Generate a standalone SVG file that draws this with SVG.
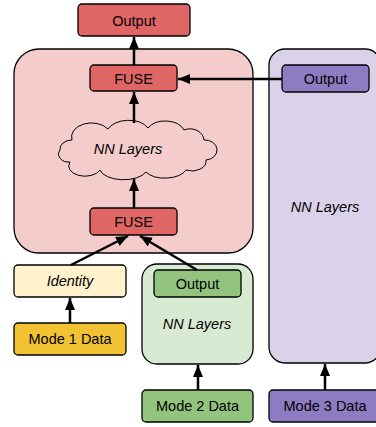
<svg xmlns="http://www.w3.org/2000/svg" width="376" height="427" viewBox="0 0 376 427">
<style>
.box{stroke:#000;stroke-width:1.3}
.t{font-family:"Liberation Sans",Arial,sans-serif;font-size:14.5px;fill:#000;text-anchor:middle;dominant-baseline:central}
.i{font-style:italic}
.conn line{stroke:#000;stroke-width:2.5;marker-end:url(#ah)}
</style>
<defs>
<marker id="ah" markerUnits="userSpaceOnUse" markerWidth="13" markerHeight="11" refX="12" refY="5" orient="auto">
<path d="M0,0 L12,5 L0,10 Z" fill="#000"/>
</marker>
</defs>
<rect width="376" height="427" fill="#fff"/>
<g id="container1"><rect class="box" x="14" y="49" width="239" height="204" rx="25" fill="#f4cccc"/></g>
<g id="container3"><rect class="box" x="269" y="49" width="112" height="314" rx="16" fill="#d9d2e9"/><text class="t i" x="325" y="207">NN Layers</text></g>
<g id="container2"><rect class="box" x="142" y="264" width="111" height="100" rx="15" fill="#d9ead3"/><text class="t i" x="197" y="324">NN Layers</text></g>
<g id="output_top"><rect class="box" x="78" y="4" width="112" height="32" rx="4" fill="#e06666"/><text class="t" x="134" y="21">Output</text></g>
<g id="fuse_top"><rect class="box" x="90" y="65" width="87" height="26" rx="4" fill="#e06666"/><text class="t" x="133.5" y="78.5">FUSE</text></g>
<g id="cloud"><path d="M72 140 A20 14 0 0 1 108 129 A22 14 0 0 1 148 128 A20 14 0 0 1 184 130 A14 12 0 0 1 204 140 A12 10 0 0 1 206 160 A14 10 0 0 1 186 170 A22 12 0 0 1 146 172 A24 12 0 0 1 100 170 A16 10 0 0 1 70 162 A10 8 0 0 1 60 150 A12 9 0 0 1 72 140 Z" fill="#f4cccc" stroke="#000" stroke-width="1"/><text class="t i" x="128" y="149">NN Layers</text></g>
<g id="fuse_bottom"><rect class="box" x="90" y="208" width="87" height="27" rx="4" fill="#e06666"/><text class="t" x="133.5" y="221.5">FUSE</text></g>
<g id="output_purple"><rect class="box" x="282" y="65" width="87" height="27" rx="4" fill="#8e7cc3"/><text class="t" x="325.5" y="78.5">Output</text></g>
<g id="identity"><rect class="box" x="14" y="265" width="112" height="32" rx="4" fill="#fff2cc"/><text class="t i" x="70" y="281">Identity</text></g>
<g id="mode1"><rect class="box" x="14" y="323" width="112" height="32" rx="4" fill="#f1c232"/><text class="t" x="70" y="339">Mode 1 Data</text></g>
<g id="output_green"><rect class="box" x="154" y="270" width="87" height="27" rx="4" fill="#93c47d"/><text class="t" x="197.5" y="283.5">Output</text></g>
<g id="mode2"><rect class="box" x="142" y="390" width="111" height="32" rx="4" fill="#93c47d"/><text class="t" x="197.5" y="406">Mode 2 Data</text></g>
<g id="mode3"><rect class="box" x="269" y="390" width="112" height="32" rx="4" fill="#8e7cc3"/><text class="t" x="325" y="406">Mode 3 Data</text></g>
<g class="conn" id="connectors">
<line x1="134" y1="65" x2="134" y2="37"/>
<line x1="282" y1="79" x2="178" y2="79"/>
<line x1="134" y1="123" x2="134" y2="92"/>
<line x1="134" y1="208" x2="134" y2="179"/>
<line x1="71" y1="265" x2="128" y2="236"/>
<line x1="197" y1="270" x2="140" y2="236"/>
<line x1="70" y1="323" x2="70" y2="298"/>
<line x1="198" y1="390" x2="198" y2="365"/>
<line x1="325" y1="390" x2="325" y2="364"/>
</g>
</svg>
